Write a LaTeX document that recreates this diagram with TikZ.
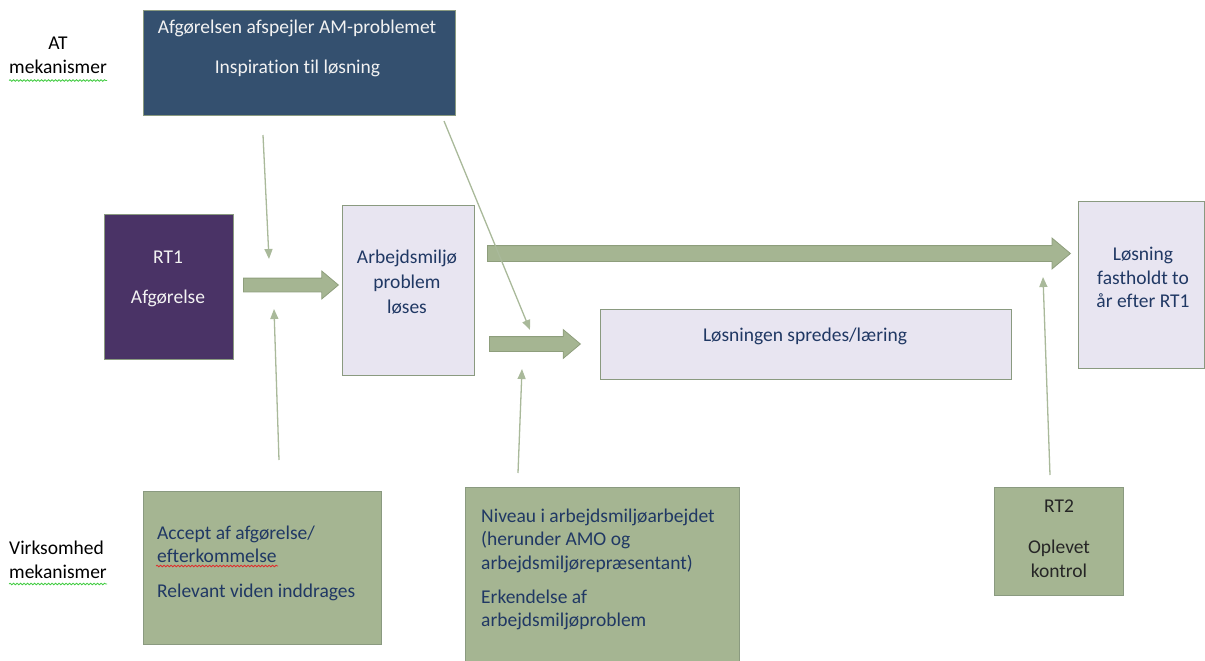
\documentclass[tikz,border=0pt]{standalone}
\usepackage{fontspec}
\setmainfont{Carlito}[Ligatures=NoCommon]
\usetikzlibrary{positioning,arrows.meta,shapes.arrows,decorations.pathmorphing}

\definecolor{topblue}{HTML}{34506F}
\definecolor{rtpurple}{HTML}{4A3366}
\definecolor{lav}{HTML}{E8E5F1}
\definecolor{sage}{HTML}{A5B592}
\definecolor{boxline}{HTML}{8A9A80}
\definecolor{arrowline}{HTML}{8E9E7C}
\definecolor{hintline}{HTML}{A9B99A}
\definecolor{navy}{HTML}{203864}
\definecolor{offwhite}{HTML}{F2F2F2}
\definecolor{darktext}{HTML}{262626}
\definecolor{wavegreen}{HTML}{3FCB3F}
\definecolor{wavered}{HTML}{E02B2B}

\tikzset{
	box/.style={draw=boxline, line width=0.9pt, anchor=north west, inner sep=0pt},
	txt/.style={font=\fontsize{19.5}{23.5}\selectfont, inner sep=0pt, anchor=base},
	fatarrow/.style={single arrow, draw=arrowline, fill=sage, line width=0.8pt,
		inner sep=0pt, single arrow tip angle=80, anchor=tail},
	hint/.style={draw=hintline, line width=1.3pt, -{Triangle[length=10pt,width=8pt]}},
	squiggle/.style={decorate, decoration={snake, amplitude=0.8pt, segment length=3.5pt}, line width=0.8pt}
}

\begin{document}
\begin{tikzpicture}[x=1pt,y=-1pt]
	\useasboundingbox (0,0) rectangle (1205,661);
	\clip (0,0) rectangle (1205,661);
	% labels at the left
	\node[txt] (atlab1) at (58,49.5) {AT};
	\node[txt] (atlab2) at (58,74) {mekanismer};
	\draw[squiggle, wavegreen] (9,80.5) -- (107,80.5);
	\node[txt, anchor=base west] (vmlab1) at (9,554) {Virksomhed};
	\node[txt, anchor=base west] (vmlab2) at (9,578.5) {mekanismer};
	\draw[squiggle, wavegreen] (9,584) -- (107,584);
	% boxes
	\node[box, fill=topblue, minimum width=312, minimum height=105] (atbox) at (143,10) {};
	\node[box, fill=rtpurple, minimum width=129, minimum height=145] (rtone) at (104,214) {};
	\node[box, fill=lav, minimum width=132, minimum height=170] (solve) at (342,205) {};
	\node[box, fill=lav, minimum width=411, minimum height=70] (spread) at (600,309) {};
	\node[box, fill=lav, minimum width=126, minimum height=167] (kept) at (1078,201) {};
	\node[box, fill=sage, minimum width=238, minimum height=153] (accept) at (143,491) {};
	\node[box, fill=sage, minimum width=274, minimum height=190] (level) at (465,487) {};
	\node[box, fill=sage, minimum width=129, minimum height=108] (rttwo) at (994,487) {};
	% texts (multi-line nodes sit on their last line)
	\node[txt, text=offwhite] (attxt1) at (297,33.5) {Afgørelsen afspejler AM-problemet};
	\node[txt, text=offwhite] (attxt2) at (297.5,74) {Inspiration til løsning};
	\node[txt, text=offwhite, align=center] (rtonetxt) at (168,303) {RT1\\[16.5pt]Afgørelse};
	\node[txt, text=navy, align=center] (solvetxt) at (407,313) {Arbejdsmiljø\\[1.5pt]problem\\[1.5pt]løses};
	\node[txt, text=navy] (spreadtxt) at (805,341) {Løsningen spredes/læring};
	\node[txt, text=navy, align=center] (kepttxt) at (1143,307.5) {Løsning\\fastholdt to\\år efter RT1};
	\node[txt, text=navy, align=left, anchor=base west] (accepttxt) at (157,597)
		{Accept af afgørelse/\\efterkommelse\\[11pt]Relevant viden inddrages};
	\draw[squiggle, wavered] (156,566) -- (278,566);
	\node[txt, text=navy, align=left, anchor=base west] (leveltxt) at (481,626.5)
		{Niveau i arbejdsmiljøarbejdet\\(herunder AMO og\\arbejdsmiljørepræsentant)\\[10.5pt]Erkendelse af\\arbejdsmiljøproblem};
	\node[txt, text=darktext, align=center] (rttwotxt) at (1059,577) {RT2\\[17.5pt]Oplevet\\kontrol};
	% fat arrows
	\node[fatarrow, minimum height=95, inner ysep=6.5pt, single arrow head extend=7pt] (goone) at (243,285) {};
	\node[fatarrow, minimum height=583, inner ysep=7.5pt, single arrow head extend=7.5pt] (gotwo) at (487,253.5) {};
	\node[fatarrow, minimum height=91, inner ysep=7pt, single arrow head extend=7pt] (gothree) at (489,344) {};
	% thin arrows
	\coordinate (hs1) at (263,135); \coordinate (he1) at (269,259);
	\coordinate (hs2) at (279,460); \coordinate (he2) at (274,309);
	\coordinate (hs3) at (444,121); \coordinate (he3) at (530,330);
	\coordinate (hs4) at (518,473); \coordinate (he4) at (522,369);
	\coordinate (hs5) at (1050,475); \coordinate (he5) at (1043,277);
	\foreach \i in {1,...,5} \draw[hint] (hs\i) -- (he\i);
\end{tikzpicture}
\end{document}
